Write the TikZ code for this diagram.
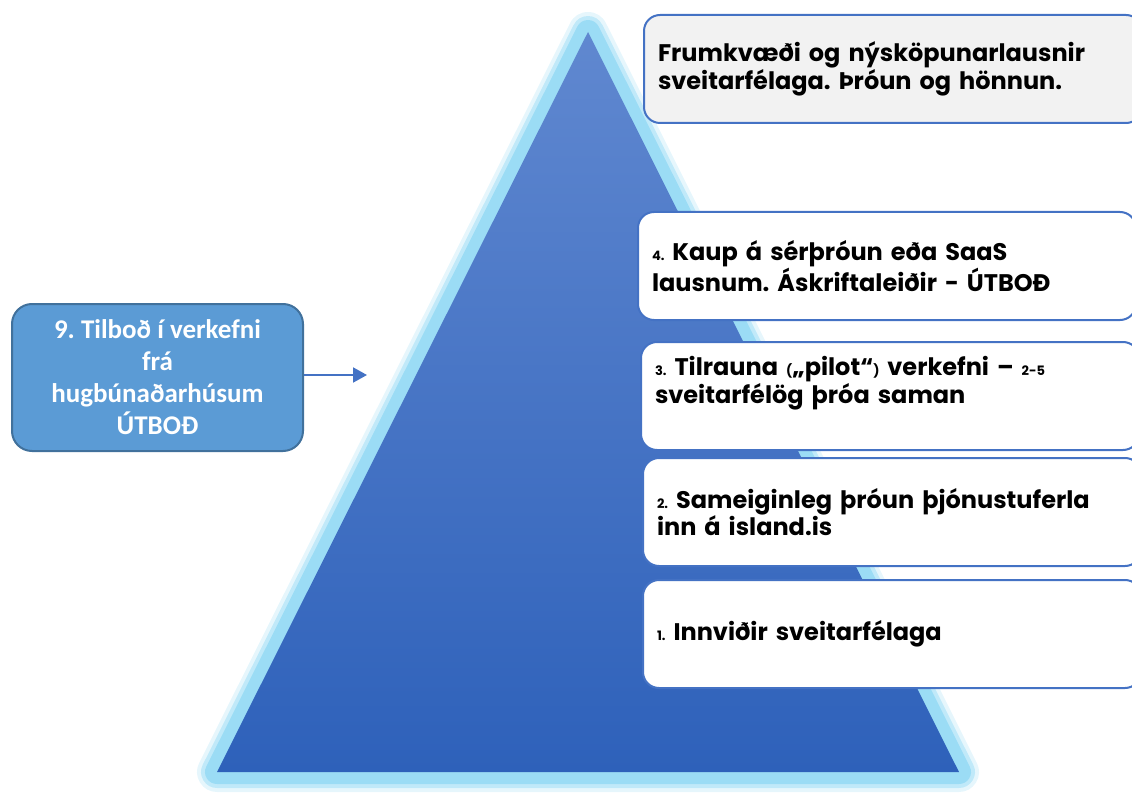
\documentclass[tikz,border=0pt]{standalone}
\usepackage{fontspec}
\usetikzlibrary{arrows.meta}
\setmainfont{Carlito}
\newfontfamily\tierfont{Poppins}
\definecolor{pyrtop}{RGB}{96,136,208}
\definecolor{pyrbottom}{RGB}{46,97,186}
\definecolor{glowblue}{RGB}{155,220,245}
\definecolor{tierline}{RGB}{68,114,196}
\definecolor{offerfill}{RGB}{91,155,213}
\definecolor{offerline}{RGB}{65,113,156}
\definecolor{topfill}{RGB}{242,242,242}
\newcommand{\nr}[1]{{\fontsize{13}{24}\selectfont #1}}
\frenchspacing

\begin{document}
\begin{tikzpicture}[x=1pt,y=-1pt,
    tier/.style={draw=tierline,line width=2pt,rounded corners=16pt,fill=white,
      anchor=west,minimum height=108pt,inner xsep=14pt,text width=470pt,align=left,
      font=\tierfont\bfseries\fontsize{24}{25}\selectfont},
    offer/.style={draw=offerline,line width=2pt,rounded corners=20pt,fill=offerfill,
      text=white,minimum width=291pt,minimum height=147pt,align=center,
      font=\bfseries\fontsize{27}{32}\selectfont}]
    \useasboundingbox (0,0) rectangle (1132,794);

    % Pyramid with glow
    \coordinate (apex) at (588,32);
    \coordinate (baseL) at (217,772);
    \coordinate (baseR) at (959,772);
    \draw[glowblue,line width=40pt,line join=round,opacity=.25] (apex) -- (baseL) -- (baseR) -- cycle;
    \draw[glowblue,line width=32pt,line join=round,opacity=.5] (apex) -- (baseL) -- (baseR) -- cycle;
    \draw[glowblue,line width=24pt,line join=round] (apex) -- (baseL) -- (baseR) -- cycle;
    \shade[top color=pyrtop,bottom color=pyrbottom] (apex) -- (baseL) -- (baseR) -- cycle;

    % Tiers
    \node[tier,fill=topfill] (t5) at (643,69) {Frumkvæði og nýsköpunarlausnir\\sveitarfélaga. Þróun og hönnun.};
    \node[tier] (t4) at (637,266) {\nr{4.\ }Kaup á sérþróun eða SaaS\\lausnum. Áskriftaleiðir - ÚTBOÐ};
    \node[tier,execute at end node={\par\vspace*{26pt}}] (t3) at (640,396) {\nr{3.\ }Tilrauna \nr{(}„pilot“\nr{)} verkefni – \nr{2-5}\\sveitarfélög þróa saman};
    \node[tier] (t2) at (642,512) {\nr{2.\ }Sameiginleg þróun þjónustuferla\\inn á island.is};
    \node[tier] (t1) at (642,634) {\nr{1.\ }Innviðir sveitarfélaga};

    % Offer box and arrow
    \node[offer] (offer) at (157.5,377.5) {9. Tilboð í verkefni\\frá\\hugbúnaðarhúsum\\ÚTBOÐ};
    \coordinate (arrowtip) at (367,375);
    \draw[tierline,line width=2pt,-{Triangle[length=14pt,width=15pt]}] (offer.east |- arrowtip) -- (arrowtip);
\end{tikzpicture}
\end{document}
